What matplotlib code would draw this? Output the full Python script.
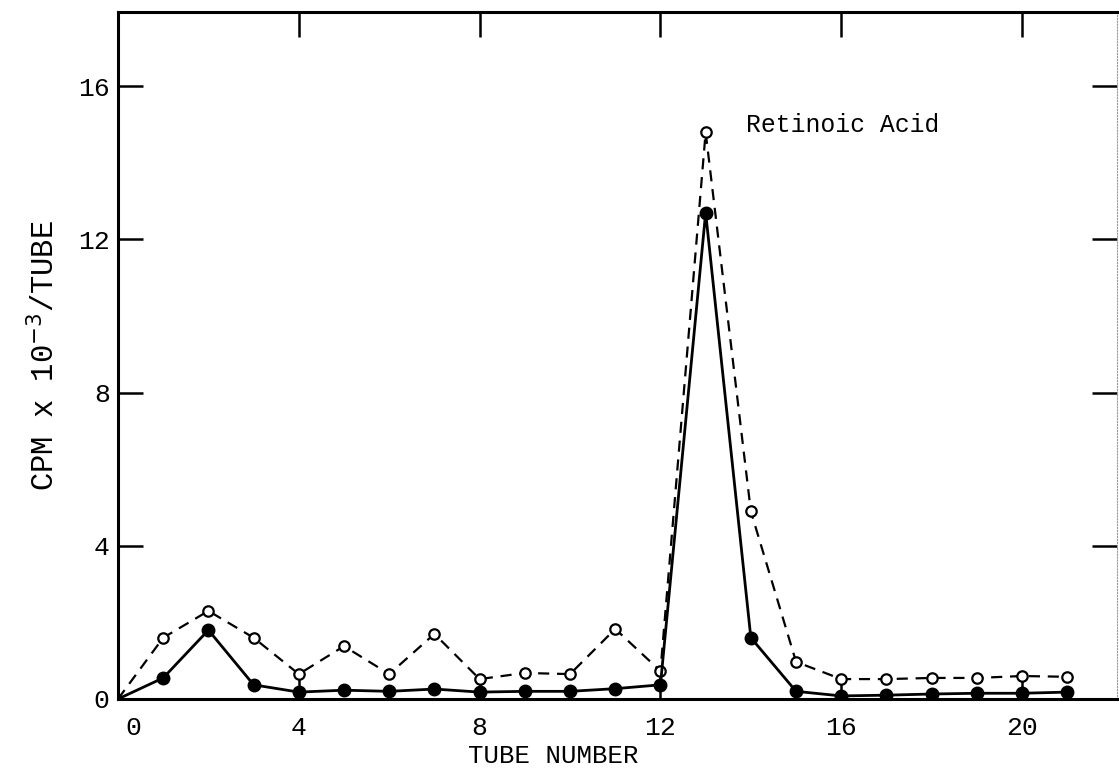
import numpy as np
import matplotlib
matplotlib.use("Agg")
import matplotlib.pyplot as plt
from matplotlib.transforms import ScaledTranslation

# tube numbers and counts (CPM x 10^-3 per tube)
tubes = np.arange(0, 22)
filled = [0.0, 0.55, 1.8, 0.37, 0.18, 0.23, 0.2, 0.26, 0.18, 0.2, 0.2,
          0.27, 0.37, 12.7, 1.6, 0.2, 0.08, 0.1, 0.13, 0.15, 0.15, 0.18]
opened = [0.0, 1.6, 2.3, 1.6, 0.65, 1.38, 0.65, 1.7, 0.52, 0.68, 0.65,
          1.83, 0.73, 14.8, 4.9, 0.97, 0.52, 0.52, 0.55, 0.55, 0.6, 0.58]

xticks = [0, 4, 8, 12, 16, 20]
yticks = [0, 4, 8, 12, 16]

plt.rcParams['font.family'] = ['Liberation Mono', 'DejaVu Sans Mono']

fig = plt.figure(figsize=(11.19, 7.73), dpi=100)
ax = fig.add_axes([118/1119, 1-699/773, (1117-118)/1119, (699-12)/773])

# dashed curve with open circles (starts at origin without marker)
ax.plot(tubes, opened, color="black", lw=1.6, ls=(0, (5, 3.5)), zorder=2)
ax.plot(tubes[1:], opened[1:], ls="none", marker="o", ms=7.5,
        mfc="white", mec="black", mew=1.6, zorder=3)

# solid curve with filled dots
ax.plot(tubes, filled, color="black", lw=2.0, zorder=4)
ax.plot(tubes[1:], filled[1:], ls="none", marker="o", ms=9,
        color="black", zorder=5)

ax.text(13.9, 15.0, "Retinoic Acid", fontsize=17.8, va="center", ha="left")

ax.set_xlim(0, 22.1)
ax.set_ylim(0, 17.94)
ax.set_xticks(xticks)
ax.set_yticks(yticks)
ax.tick_params(axis="both", direction="in", length=18, width=1.8,
               labelsize=19, top=True, right=True)
ax.tick_params(axis="x", pad=12)
ax.tick_params(axis="y", pad=6)

# the "0" under the origin sits a little to the right
lbl0 = ax.get_xticklabels()[0]
lbl0.set_transform(lbl0.get_transform() + ScaledTranslation(0.15, 0, fig.dpi_scale_trans))

for s in ["left", "top", "bottom"]:
    ax.spines[s].set_linewidth(2.2)
ax.spines["right"].set_linewidth(0.8)
ax.spines["right"].set_linestyle(":")
ax.spines["right"].set_color("#999999")

ax.set_xlabel("TUBE NUMBER", fontsize=18.5, labelpad=4)
ax.xaxis.set_label_coords(0.436, -0.065)
ax.set_ylabel(r"CPM x 10$^{-3}$/TUBE", fontsize=22, labelpad=12)

fig.savefig("out.png", dpi=100)
